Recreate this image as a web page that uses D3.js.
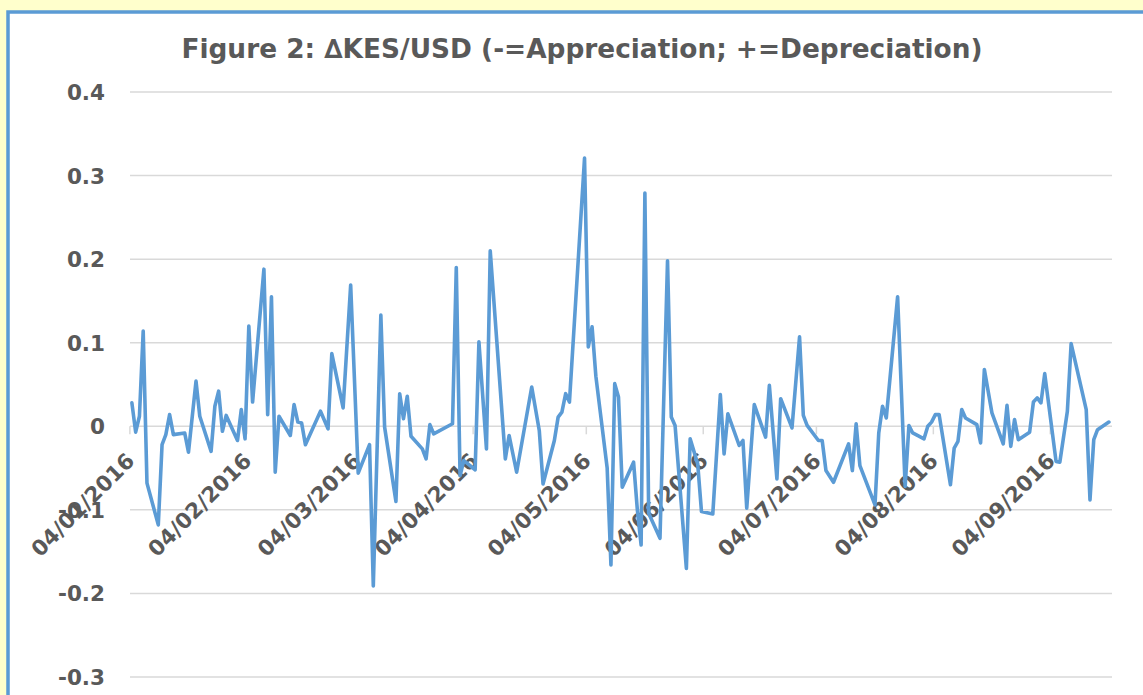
<!DOCTYPE html>
<html>
<head>
<meta charset="utf-8">
<script src="https://cdnjs.cloudflare.com/ajax/libs/d3/7.8.5/d3.min.js"></script>
<style>
  html, body { margin: 0; background: #FFFFCC; overflow: hidden; }
  svg { display: block; }
  text { font-family: "DejaVu Sans", sans-serif; font-weight: bold; fill: #595959; }
</style>
</head>
<body>
<svg id="chart" width="1143" height="695"></svg>
<script>
// daily change KES/USD (business days)
var dates = [
  "2016-01-04","2016-01-05","2016-01-06","2016-01-07","2016-01-08","2016-01-11","2016-01-12","2016-01-13","2016-01-14","2016-01-15",
  "2016-01-18","2016-01-19","2016-01-21","2016-01-22","2016-01-25","2016-01-26","2016-01-27","2016-01-28","2016-01-29",
  "2016-02-01","2016-02-02","2016-02-03","2016-02-04","2016-02-05","2016-02-08","2016-02-09","2016-02-10","2016-02-11","2016-02-12",
  "2016-02-15","2016-02-16","2016-02-17","2016-02-18","2016-02-19","2016-02-23","2016-02-25","2016-02-26","2016-02-29",
  "2016-03-02","2016-03-04","2016-03-07","2016-03-08","2016-03-10","2016-03-11","2016-03-14","2016-03-15","2016-03-16","2016-03-17","2016-03-18",
  "2016-03-21","2016-03-22","2016-03-23","2016-03-24","2016-03-29","2016-03-30","2016-03-31","2016-04-01",
  "2016-04-04","2016-04-05","2016-04-07","2016-04-08","2016-04-12","2016-04-13","2016-04-15","2016-04-19","2016-04-21","2016-04-22",
  "2016-04-25","2016-04-26","2016-04-27","2016-04-28","2016-04-29","2016-05-03","2016-05-04","2016-05-05","2016-05-06",
  "2016-05-09","2016-05-10","2016-05-11","2016-05-12","2016-05-13","2016-05-16","2016-05-17","2016-05-18","2016-05-19","2016-05-20",
  "2016-05-23","2016-05-25","2016-05-26","2016-05-27","2016-05-30","2016-05-31","2016-06-02","2016-06-03",
  "2016-06-06","2016-06-08","2016-06-09","2016-06-10","2016-06-13","2016-06-14","2016-06-15","2016-06-17",
  "2016-06-20","2016-06-21","2016-06-23","2016-06-24","2016-06-27","2016-06-29","2016-06-30","2016-07-01",
  "2016-07-04","2016-07-05","2016-07-06","2016-07-08","2016-07-12","2016-07-13","2016-07-14","2016-07-15",
  "2016-07-19","2016-07-20","2016-07-21","2016-07-22","2016-07-25","2016-07-27","2016-07-28","2016-07-29",
  "2016-08-01","2016-08-02","2016-08-03","2016-08-04","2016-08-05","2016-08-08","2016-08-09","2016-08-10","2016-08-11","2016-08-12",
  "2016-08-15","2016-08-16","2016-08-17","2016-08-19","2016-08-22","2016-08-23","2016-08-24","2016-08-25","2016-08-26",
  "2016-08-29","2016-08-30","2016-08-31","2016-09-01","2016-09-02","2016-09-05","2016-09-06","2016-09-08","2016-09-09",
  "2016-09-13","2016-09-14","2016-09-15","2016-09-16","2016-09-19"
];
var values = [
  0.028,-0.007,0.012,0.114,-0.068,-0.118,-0.022,-0.010,0.014,-0.010,
  -0.008,-0.031,0.054,0.012,-0.030,0.024,0.042,-0.006,0.013,
  -0.017,0.020,-0.015,0.120,0.029,0.188,0.014,0.155,-0.055,0.012,
  -0.011,0.026,0.005,0.004,-0.022,0.018,-0.003,0.087,0.022,
  0.169,-0.056,-0.022,-0.191,0.133,-0.001,-0.090,0.039,0.009,0.036,-0.012,
  -0.027,-0.039,0.002,-0.009,0.003,0.190,-0.059,-0.041,
  -0.052,0.101,-0.027,0.210,-0.039,-0.011,-0.055,0.047,-0.005,-0.069,
  -0.017,0.011,0.017,0.039,0.029,0.321,0.095,0.119,0.060,
  -0.050,-0.166,0.051,0.035,-0.073,-0.043,-0.100,-0.142,0.279,-0.104,
  -0.134,0.198,0.011,0.001,-0.170,-0.015,-0.045,-0.102,
  -0.105,0.038,-0.033,0.015,-0.023,-0.017,-0.098,0.026,
  -0.013,0.049,-0.063,0.033,-0.002,0.107,0.013,0.001,
  -0.017,-0.017,-0.053,-0.067,-0.021,-0.053,0.003,-0.047,
  -0.094,-0.008,0.024,0.010,0.155,-0.072,0.001,-0.008,
  -0.015,0.000,0.005,0.014,0.014,-0.070,-0.026,-0.018,0.020,0.010,
  0.002,-0.020,0.068,0.016,-0.021,0.025,-0.024,0.008,-0.016,
  -0.007,0.029,0.034,0.028,0.063,-0.042,-0.043,0.018,0.099,
  0.020,-0.088,-0.016,-0.004,0.005
];
var yTicks = [-0.3, -0.2, -0.1, 0, 0.1, 0.2, 0.3, 0.4];
var xTickDates = ["2016-01-04","2016-02-04","2016-03-04","2016-04-04","2016-05-04",
                  "2016-06-04","2016-07-04","2016-08-04","2016-09-04"];
var title = "Figure 2: \u2206KES/USD (-=Appreciation; +=Depreciation)";

var parse = d3.utcParse("%Y-%m-%d"),
    fmtDate = d3.utcFormat("%d/%m/%Y");
var data = dates.map(function (d, i) { return { date: parse(d), value: values[i] }; });

var svg = d3.select("#chart");

// chart frame: white panel, blue edge only on the left and top (the rest is cut off)
svg.append("rect")
  .attr("x", 8).attr("y", 12)
  .attr("width", 1135).attr("height", 683)
  .style("fill", "#ffffff");
svg.append("path")
  .attr("d", "M8,695 L8,12 L1143,12")
  .style("fill", "none")
  .style("stroke", "#5B9BD5")
  .style("stroke-width", 3.5);

var x = d3.scaleUtc()
  .domain([new Date(Date.UTC(2016, 0, 3, 12)), new Date(Date.UTC(2016, 8, 19, 20))])
  .range([130, 1112]);
var y = d3.scaleLinear().domain([-0.3, 0.4]).range([677, 92]);

// gridlines
svg.append("g").selectAll("line")
  .data(yTicks)
  .enter().append("line")
  .attr("x1", x.range()[0]).attr("x2", x.range()[1])
  .attr("y1", function (d) { return y(d); })
  .attr("y2", function (d) { return y(d); })
  .style("stroke", "#D9D9D9")
  .style("stroke-width", 1.5);

// y labels
svg.append("g").selectAll("text")
  .data(yTicks)
  .enter().append("text")
  .attr("x", 105)
  .attr("y", function (d) { return y(d); })
  .attr("dy", "0.37em")
  .attr("text-anchor", "end")
  .style("font-size", "21.5px")
  .text(function (d) { return d === 0 ? "0" : d.toFixed(1); });

// x axis ticks + rotated date labels (axis sits on zero)
var y0 = y(0);
var xt = svg.append("g").selectAll("g")
  .data(xTickDates.map(parse))
  .enter().append("g");
xt.append("line")
  .attr("x1", function (d) { return x(d) - 2; })
  .attr("x2", function (d) { return x(d) - 2; })
  .attr("y1", y0).attr("y2", y0 + 8)
  .style("stroke", "#D9D9D9")
  .style("stroke-width", 1.5);
xt.append("text")
  .attr("transform", function (d) { return "translate(" + (x(d) + 4) + "," + (y0 + 36) + ") rotate(-45)"; })
  .attr("text-anchor", "end")
  .style("font-size", "21.5px")
  .text(function (d) { return fmtDate(d); });

// series
var line = d3.line()
  .x(function (d) { return x(d.date); })
  .y(function (d) { return y(d.value); });
svg.append("path")
  .datum(data)
  .attr("d", line)
  .style("fill", "none")
  .style("stroke", "#5B9BD5")
  .style("stroke-width", 3.6)
  .style("stroke-linejoin", "round")
  .style("stroke-linecap", "round");

// title, scaled to the width it has in the figure
var t = svg.append("text")
  .attr("x", 582).attr("y", 58)
  .attr("text-anchor", "middle")
  .style("font-size", "24px")
  .text(title);
var w = t.node().getComputedTextLength();
t.style("font-size", (24 * 801 / w).toFixed(2) + "px");
</script>
</body>
</html>
